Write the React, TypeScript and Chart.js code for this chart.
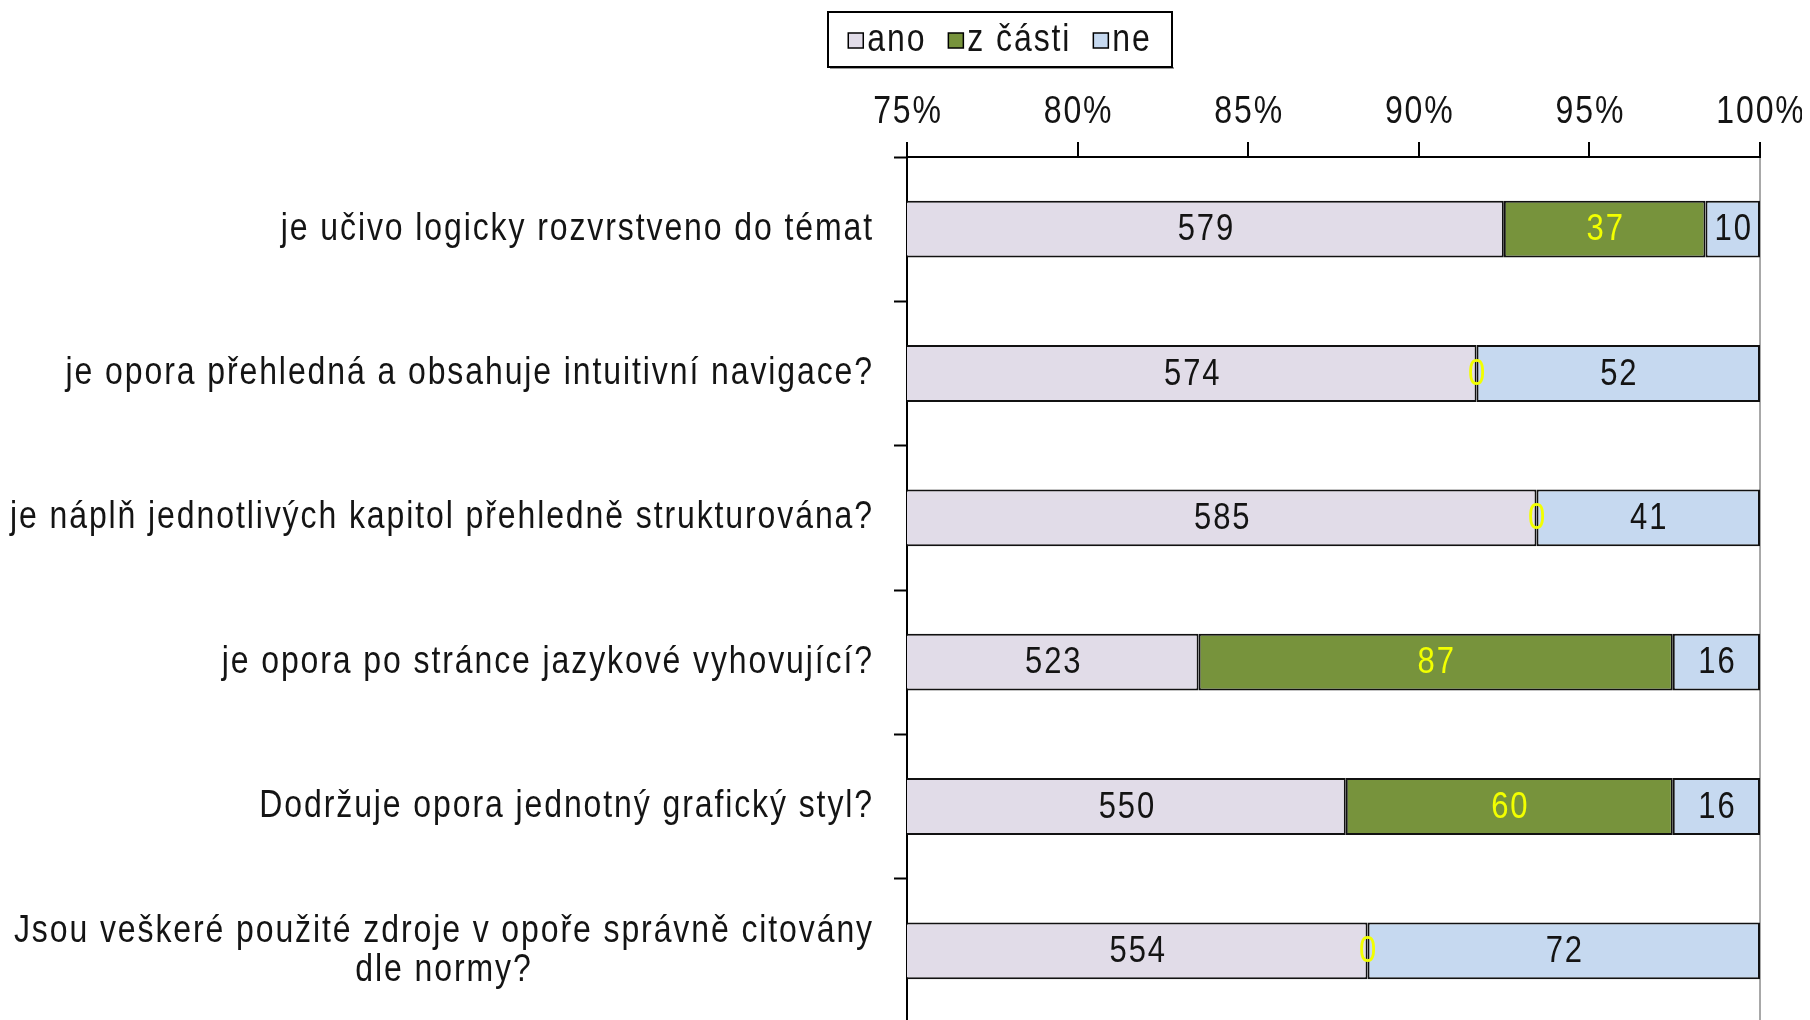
import React, { useEffect, useRef } from 'react';
import { Chart, registerables } from 'chart.js';

Chart.register(...registerables);

const categories: (string | string[])[] = [
  'je učivo logicky rozvrstveno do témat',
  'je opora přehledná a obsahuje intuitivní navigace?',
  'je náplň jednotlivých kapitol přehledně strukturována?',
  'je opora po stránce jazykové vyhovující?',
  'Dodržuje opora jednotný grafický styl?',
  ['Jsou veškeré použité zdroje v opoře správně citovány', 'dle normy?'],
];
const seriesNames = ['ano', 'z části', 'ne'];
const anoCounts = [579, 574, 585, 523, 550, 554];
const zCastiCounts = [37, 0, 0, 87, 60, 0];
const neCounts = [10, 52, 41, 16, 16, 72];
const xMin = 75;
const xMax = 100;
const xStep = 5;

const seriesColors = ['#E1DCE8', '#77933C', '#C6D9F0'];
const valueLabelColors = ['#141414', '#F2FF00', '#141414'];

const FAMILY = "'Liberation Sans', Arial, sans-serif";
const FS = 32;
const FS_VALUE = 31;
const LS = '1.9px';
const VSCALE = 1.2;
const TEXT_COLOR = '#141414';

const CANVAS_W = 1794;
const CANVAS_H = 1020;

function drawStretched(ctx: CanvasRenderingContext2D, text: string, x: number, y: number) {
  ctx.save();
  ctx.translate(x, y);
  ctx.scale(1, VSCALE);
  ctx.fillText(text, 0, 0);
  ctx.restore();
}

export default function App() {
  const ref = useRef<HTMLCanvasElement | null>(null);

  useEffect(() => {
    const canvas = ref.current;
    if (!canvas) return;
    const counts = [anoCounts, zCastiCounts, neCounts];
    const totals = anoCounts.map((_, i) => anoCounts[i] + zCastiCounts[i] + neCounts[i]);

    const customText = {
      id: 'customText',
      afterDraw(chart: any) {
        const ctx = chart.ctx as CanvasRenderingContext2D;
        const area = chart.chartArea;
        const yScale = chart.scales.y;
        const xScale = chart.scales.x;
        ctx.save();
        (ctx as any).letterSpacing = LS;
        ctx.font = `${FS}px ${FAMILY}`;
        ctx.textBaseline = 'middle';
        ctx.fillStyle = TEXT_COLOR;

        // x tick labels
        ctx.textAlign = 'center';
        xScale.ticks.forEach((t: any) => {
          const px = xScale.getPixelForValue(t.value);
          drawStretched(ctx, `${t.value}%`, px + 1, 104);
        });

        // category labels
        const labelRight = 866;
        const lineH = 38.5;
        categories.forEach((cat, i) => {
          const yc = yScale.getPixelForTick(i);
          const lines = Array.isArray(cat) ? cat : [cat];
          const maxW = Math.max(...lines.map((l) => ctx.measureText(l).width));
          ctx.textAlign = 'center';
          lines.forEach((l, j) => {
            const y = yc + (j - (lines.length - 1) / 2) * lineH;
            drawStretched(ctx, l, labelRight - maxW / 2, y);
          });
        });

        // value labels
        ctx.font = `${FS_VALUE}px ${FAMILY}`;
        ctx.textAlign = 'center';
        counts.forEach((arr, si) => {
          const meta = chart.getDatasetMeta(si);
          meta.data.forEach((el: any, i: number) => {
            const { x, base, y } = el.getProps(['x', 'base', 'y'], true);
            const a = Math.max(Math.min(x, base), area.left);
            const b = Math.min(Math.max(x, base), area.right);
            ctx.fillStyle = valueLabelColors[si];
            drawStretched(ctx, String(arr[i]), (a + b) / 2 + 1, y + 1);
          });
        });

        // legend
        ctx.font = `${FS}px ${FAMILY}`;
        const boxL = 820, boxT = 4, boxR = 1164, boxB = 59;
        ctx.fillStyle = '#9a9a9a';
        ctx.fillRect(boxL + 2, boxB, boxR - boxL, 2);
        ctx.fillStyle = '#ffffff';
        ctx.fillRect(boxL, boxT, boxR - boxL, boxB - boxT);
        ctx.strokeStyle = '#000';
        ctx.lineWidth = 2;
        ctx.strokeRect(boxL, boxT, boxR - boxL, boxB - boxT);
        const sq = 15;
        const gapSq = 4;
        const gapItem = 22;
        const widths = seriesNames.map((n) => ctx.measureText(n).width);
        const total = widths.reduce((s, w) => s + sq + gapSq + w, 0) + gapItem * (seriesNames.length - 1);
        let cx = (boxL + boxR) / 2 - total / 2;
        const cy = (boxT + boxB) / 2;
        ctx.textAlign = 'left';
        seriesNames.forEach((n, si) => {
          ctx.fillStyle = seriesColors[si];
          ctx.fillRect(cx, cy - sq / 2 + 1, sq, sq);
          ctx.strokeStyle = '#000';
          ctx.lineWidth = 1.5;
          ctx.strokeRect(cx, cy - sq / 2 + 1, sq, sq);
          ctx.fillStyle = TEXT_COLOR;
          drawStretched(ctx, n, cx + sq + gapSq, cy + 1);
          cx += sq + gapSq + widths[si] + gapItem;
        });
        ctx.restore();
      },
    };

    const chart = new Chart(canvas, {
      type: 'bar',
      data: {
        labels: categories.map((c) => (Array.isArray(c) ? c.join(' ') : c)),
        datasets: seriesNames.map((name, si) => ({
          label: name,
          data: counts[si].map((v, i) => (v / totals[i]) * 100),
          backgroundColor: seriesColors[si],
          borderColor: '#111',
          borderWidth: 2,
          borderSkipped: false,
          barPercentage: 0.394,
          categoryPercentage: 1,
        })),
      },
      options: {
        indexAxis: 'y',
        responsive: false,
        animation: false,
        devicePixelRatio: 1,
        layout: { padding: { left: 0, right: 42, top: 0, bottom: 5 } },
        plugins: {
          legend: { display: false },
          tooltip: { enabled: false },
          title: { display: false },
        },
        scales: {
          x: {
            type: 'linear',
            position: 'top',
            stacked: true,
            min: xMin,
            max: xMax,
            ticks: {
              stepSize: xStep,
              display: false,
              callback: (v: any) => `${v}%`,
            },
            grid: {
              color: (c: any) => (c.tick && c.tick.value === xMax ? '#A8A8A8' : 'rgba(0,0,0,0)'),
              lineWidth: 2,
              drawTicks: true,
              tickLength: 15,
              tickColor: '#000',
              tickWidth: 2,
            },
            border: { display: true, color: '#000', width: 2 },
            afterFit: (s: any) => {
              s.height = 149;
              s.paddingLeft = 0;
              s.paddingRight = 0;
            },
          },
          y: {
            type: 'category',
            stacked: true,
            offset: true,
            ticks: { display: false },
            grid: {
              offset: true,
              drawOnChartArea: false,
              drawTicks: true,
              tickLength: 13,
              tickColor: '#000',
              tickWidth: 2,
              color: '#000',
            },
            border: { display: true, color: '#000', width: 2 },
            afterFit: (s: any) => {
              s.width = 899;
              s.paddingTop = 0;
              s.paddingBottom = 0;
            },
          },
        },
      } as any,
      plugins: [customText],
    });

    return () => chart.destroy();
  }, []);

  return (
    <div style={{ width: CANVAS_W, height: 1012, overflow: 'hidden', background: '#fff' }}>
      <canvas ref={ref} width={CANVAS_W} height={CANVAS_H} style={{ display: 'block' }} />
    </div>
  );
}
